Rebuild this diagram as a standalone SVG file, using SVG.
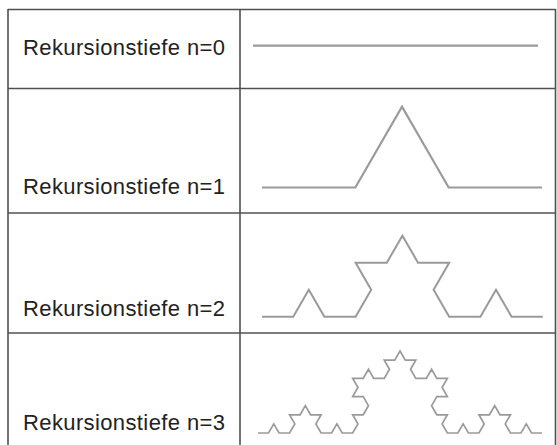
<svg xmlns="http://www.w3.org/2000/svg" width="557" height="445" viewBox="0 0 557 445">
<style>
.grid{stroke:#505050;stroke-width:1.6;fill:none}
.lbl{font-family:"Liberation Sans",Arial,sans-serif;font-size:22px;fill:#222}
.koch{fill:none;stroke:#9a9a9a;stroke-linejoin:miter;stroke-linecap:butt}
</style>
<rect width="557" height="445" fill="#fff"/>
<g id="table" class="grid">
<line x1="8" y1="9.5" x2="556" y2="9.5"/>
<line x1="8" y1="9" x2="8" y2="445"/>
<line x1="240" y1="9" x2="240" y2="445"/>
<line x1="555.5" y1="9" x2="555.5" y2="445"/>
<line x1="8" y1="88.5" x2="556" y2="88.5"/>
<line x1="8" y1="213" x2="556" y2="213"/>
<line x1="8" y1="333" x2="556" y2="333"/>
</g>
<g id="row0">
<text class="lbl" x="23" y="55" textLength="202" lengthAdjust="spacing">Rekursionstiefe n=0</text>
<path class="koch" stroke-width="2.2" d="M253,45.7 H538"/>
</g>
<g id="row1">
<text class="lbl" x="23" y="194" textLength="202" lengthAdjust="spacing">Rekursionstiefe n=1</text>
<path class="koch" stroke-width="2.2" d="M262,187.5 h93.33 l46.67-80.83 l46.67 80.83 h93.33"/>
</g>
<g id="row2">
<text class="lbl" x="23" y="316" textLength="202" lengthAdjust="spacing">Rekursionstiefe n=2</text>
<path class="koch" stroke-width="2" d="M262,316.7 h31.2 l15.6-27.02 l15.6 27.02 h31.2 l15.6-27.02 l-15.6-27.02 h31.2 l15.6-27.02 l15.6 27.02 h31.2 l-15.6 27.02 l15.6 27.02 h31.2 l15.6-27.02 l15.6 27.02 h31.2"/>
</g>
<g id="row3">
<text class="lbl" x="23" y="430" textLength="202" lengthAdjust="spacing">Rekursionstiefe n=3</text>
<path class="koch" stroke-width="1.7" d="M258,433 h10.52 l5.26-9.11 l5.26 9.11 h10.52 l5.26-9.11 l-5.26-9.11 h10.52 l5.26-9.11 l5.26 9.11 h10.52 l-5.26 9.11 l5.26 9.11 h10.52 l5.26-9.11 l5.26 9.11 h10.52 l5.26-9.11 l-5.26-9.11 h10.52 l5.26-9.11 l-5.26-9.11 h-10.52 l5.26-9.11 l-5.26-9.11 h10.52 l5.26-9.11 l5.26 9.11 h10.52 l5.26-9.11 l-5.26-9.11 h10.52 l5.26-9.11 l5.26 9.11 h10.52 l-5.26 9.11 l5.26 9.11 h10.52 l5.26-9.11 l5.26 9.11 h10.52 l-5.26 9.11 l5.26 9.11 h-10.52 l-5.26 9.11 l5.26 9.11 h10.52 l-5.26 9.11 l5.26 9.11 h10.52 l5.26-9.11 l5.26 9.11 h10.52 l5.26-9.11 l-5.26-9.11 h10.52 l5.26-9.11 l5.26 9.11 h10.52 l-5.26 9.11 l5.26 9.11 h10.52 l5.26-9.11 l5.26 9.11 h10.52"/>
</g>
</svg>
